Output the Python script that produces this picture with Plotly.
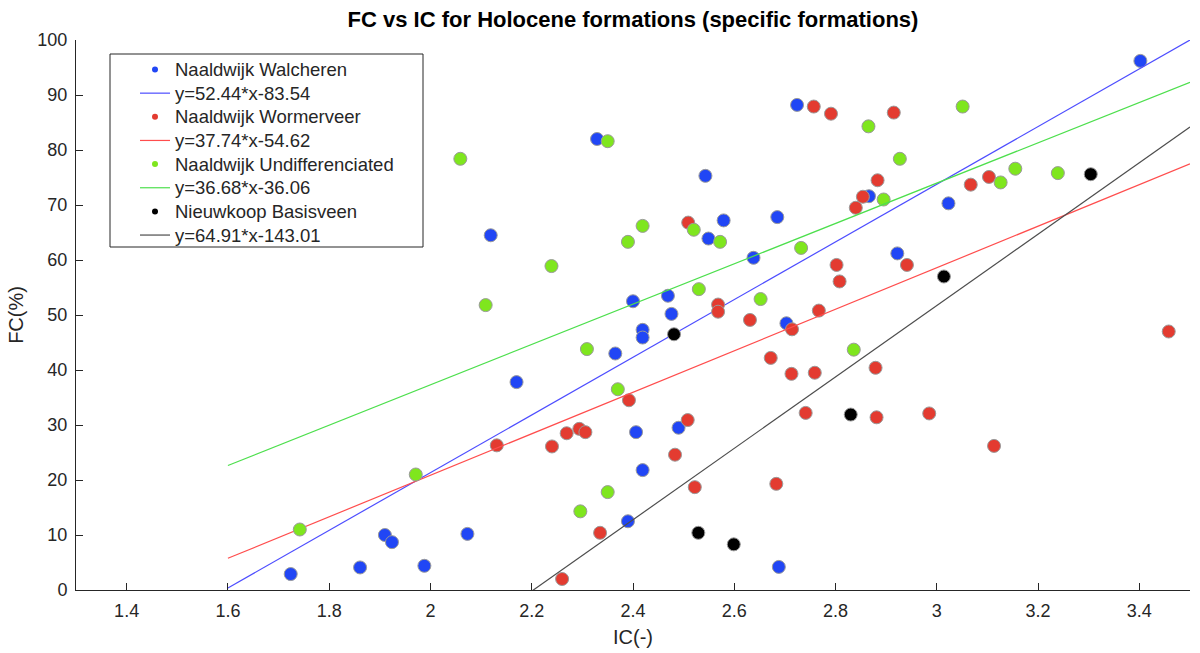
import plotly.graph_objects as go

# Naaldwijk Walcheren
walcheren_ic = [1.724, 1.861, 1.910, 1.924, 1.988, 2.073, 2.119, 2.170, 2.329, 2.365, 2.419, 2.419,
                2.406, 2.419, 2.390, 2.490, 2.688, 2.703, 2.400, 2.469, 2.476, 2.543, 2.579, 2.549,
                2.638, 2.685, 2.724, 2.866, 3.023, 2.922, 3.402]
walcheren_fc = [2.9, 4.1, 10.0, 8.7, 4.4, 10.2, 64.5, 37.8, 82.0, 43.0, 47.3, 45.9,
                28.7, 21.8, 12.5, 29.5, 4.2, 48.5, 52.5, 53.5, 50.2, 75.3, 67.2, 63.9,
                60.4, 67.8, 88.2, 71.6, 70.3, 61.2, 96.2]

# Naaldwijk Wormerveer
wormerveer_ic = [2.131, 2.240, 2.269, 2.294, 2.306, 2.392, 2.335, 2.260, 2.508, 2.483, 2.522, 2.683,
                 2.672, 2.713, 2.759, 2.741, 2.714, 2.631, 2.509, 2.568, 2.568, 2.767, 2.802, 2.840,
                 2.854, 2.883, 2.808, 2.757, 2.791, 2.915, 3.067, 3.103, 2.941, 2.879, 2.881, 2.985,
                 3.113, 3.458]
wormerveer_fc = [26.3, 26.1, 28.5, 29.3, 28.7, 34.5, 10.4, 2.0, 30.9, 24.6, 18.7, 19.3,
                 42.2, 39.3, 39.5, 32.2, 47.4, 49.1, 66.8, 51.9, 50.6, 50.8, 59.1, 69.5,
                 71.5, 74.5, 56.1, 87.9, 86.6, 86.8, 73.7, 75.1, 59.1, 40.4, 31.4, 32.1,
                 26.2, 47.0]

# Naaldwijk Undifferenciated
undiff_ic = [1.742, 1.971, 2.059, 2.109, 2.239, 2.350, 2.390, 2.419, 2.520, 2.572, 2.530, 2.652,
             2.732, 2.309, 2.370, 2.350, 2.296, 2.865, 2.927, 3.051, 2.895, 3.155, 3.126, 3.239,
             2.836]
undiff_fc = [11.0, 21.0, 78.4, 51.8, 58.9, 81.6, 63.3, 66.2, 65.5, 63.3, 54.7, 52.9,
             62.2, 43.8, 36.5, 17.8, 14.3, 84.3, 78.4, 87.9, 71.0, 76.6, 74.1, 75.8,
             43.7]

# Nieuwkoop Basisveen
basis_ic = [2.481, 2.529, 2.599, 3.304, 3.014, 2.830]
basis_fc = [46.5, 10.4, 8.3, 75.6, 57.0, 31.9]

names = ["Naaldwijk Walcheren", "Naaldwijk Wormerveer", "Naaldwijk Undifferenciated", "Nieuwkoop Basisveen"]
slopes = [52.44, 37.74, 36.68, 64.91]
intercepts = [-83.54, -54.62, -36.06, -143.01]
fit_labels = ["y=52.44*x-83.54", "y=37.74*x-54.62", "y=36.68*x-36.06", "y=64.91*x-143.01"]
fit_x = [1.6, 3.5]

x_ticks = [1.4, 1.6, 1.8, 2.0, 2.2, 2.4, 2.6, 2.8, 3.0, 3.2, 3.4]
x_ticktext = ["1.4", "1.6", "1.8", "2", "2.2", "2.4", "2.6", "2.8", "3", "3.2", "3.4"]
y_ticks = [0, 10, 20, 30, 40, 50, 60, 70, 80, 90, 100]

marker_colors = ["#2146f5", "#e33b30", "#7fe61e", "#000000"]
line_colors = ["#4d4dff", "#ff4d4d", "#4ddf4d", "#4d4d4d"]

series = [(walcheren_ic, walcheren_fc), (wormerveer_ic, wormerveer_fc),
          (undiff_ic, undiff_fc), (basis_ic, basis_fc)]

FONT = "Liberation Sans, Arial, Helvetica, sans-serif"

fig = go.Figure()
for i, (xs, ys) in enumerate(series):
    fig.add_trace(go.Scatter(x=xs, y=ys, mode="markers", name=names[i], showlegend=False,
                             marker=dict(size=13, color=marker_colors[i],
                                         line=dict(color="#9a9a9a", width=1))))
    fy = [slopes[i] * x + intercepts[i] for x in fit_x]
    fig.add_trace(go.Scatter(x=fit_x, y=fy, mode="lines", name=fit_labels[i], showlegend=False,
                             line=dict(color=line_colors[i], width=1.2)))

# plot area: x 76..1190, y 40..590 (pixels)
def px_x(p):
    return (p - 76) / 1114

def px_y(p):
    return (590 - p) / 550

# hand-placed legend box (MATLAB style)
shapes = [dict(type="rect", xref="paper", yref="paper",
               x0=px_x(110), x1=px_x(423), y0=px_y(247), y1=px_y(54),
               line=dict(color="#262626", width=1), fillcolor="white", layer="below")]
annotations = []
entry_y0 = 69.5
pitch = 23.65
for i in range(4):
    ym = entry_y0 + pitch * (2 * i)
    yl = entry_y0 + pitch * (2 * i + 1)
    # dot
    shapes.append(dict(type="circle", xref="paper", yref="paper",
                       x0=px_x(152), x1=px_x(158), y0=px_y(ym + 3), y1=px_y(ym - 3),
                       line=dict(color=marker_colors[i], width=0), fillcolor=marker_colors[i]))
    # line sample
    shapes.append(dict(type="line", xref="paper", yref="paper",
                       x0=px_x(140), x1=px_x(170), y0=px_y(yl), y1=px_y(yl),
                       line=dict(color=line_colors[i], width=1.2)))
    annotations.append(dict(text=names[i], xref="paper", yref="paper", x=px_x(173), y=px_y(ym),
                            xanchor="left", yanchor="middle", showarrow=False,
                            font=dict(family=FONT, size=18.5, color="#262626")))
    annotations.append(dict(text=fit_labels[i], xref="paper", yref="paper", x=px_x(173), y=px_y(yl),
                            xanchor="left", yanchor="middle", showarrow=False,
                            font=dict(family=FONT, size=18.5, color="#262626")))

axis_font = dict(family=FONT, size=18, color="#262626")

fig.update_layout(
    width=1200, height=653,
    margin=dict(l=76, r=10, t=40, b=63),
    paper_bgcolor="white", plot_bgcolor="white",
    showlegend=False,
    title=dict(text="<b>FC vs IC for Holocene formations (specific formations)</b>",
               x=(76 + 1190) / 2 / 1200, xanchor="center", y=1 - 19 / 653, yanchor="middle",
               font=dict(family=FONT, size=22, color="#000000")),
    xaxis=dict(range=[1.3, 3.5], tickvals=x_ticks, ticktext=x_ticktext, automargin=False,
               ticks="inside", ticklen=7, tickcolor="#262626", tickwidth=1,
               showline=True, linecolor="#262626", linewidth=1, showgrid=False, zeroline=False,
               tickfont=axis_font, ticklabelstandoff=4,
               title=dict(text="IC(-)", font=dict(family=FONT, size=20, color="#262626"),
                          standoff=10)),
    yaxis=dict(range=[0, 100], tickvals=y_ticks, automargin=False,
               ticks="inside", ticklen=7, tickcolor="#262626", tickwidth=1,
               showline=True, linecolor="#262626", linewidth=1, showgrid=False, zeroline=False,
               tickfont=axis_font, ticklabelstandoff=4,
               title=dict(text="FC(%)", font=dict(family=FONT, size=20, color="#262626"),
                          standoff=8)),
    shapes=shapes,
    annotations=annotations,
)

fig.write_html("out.html")
